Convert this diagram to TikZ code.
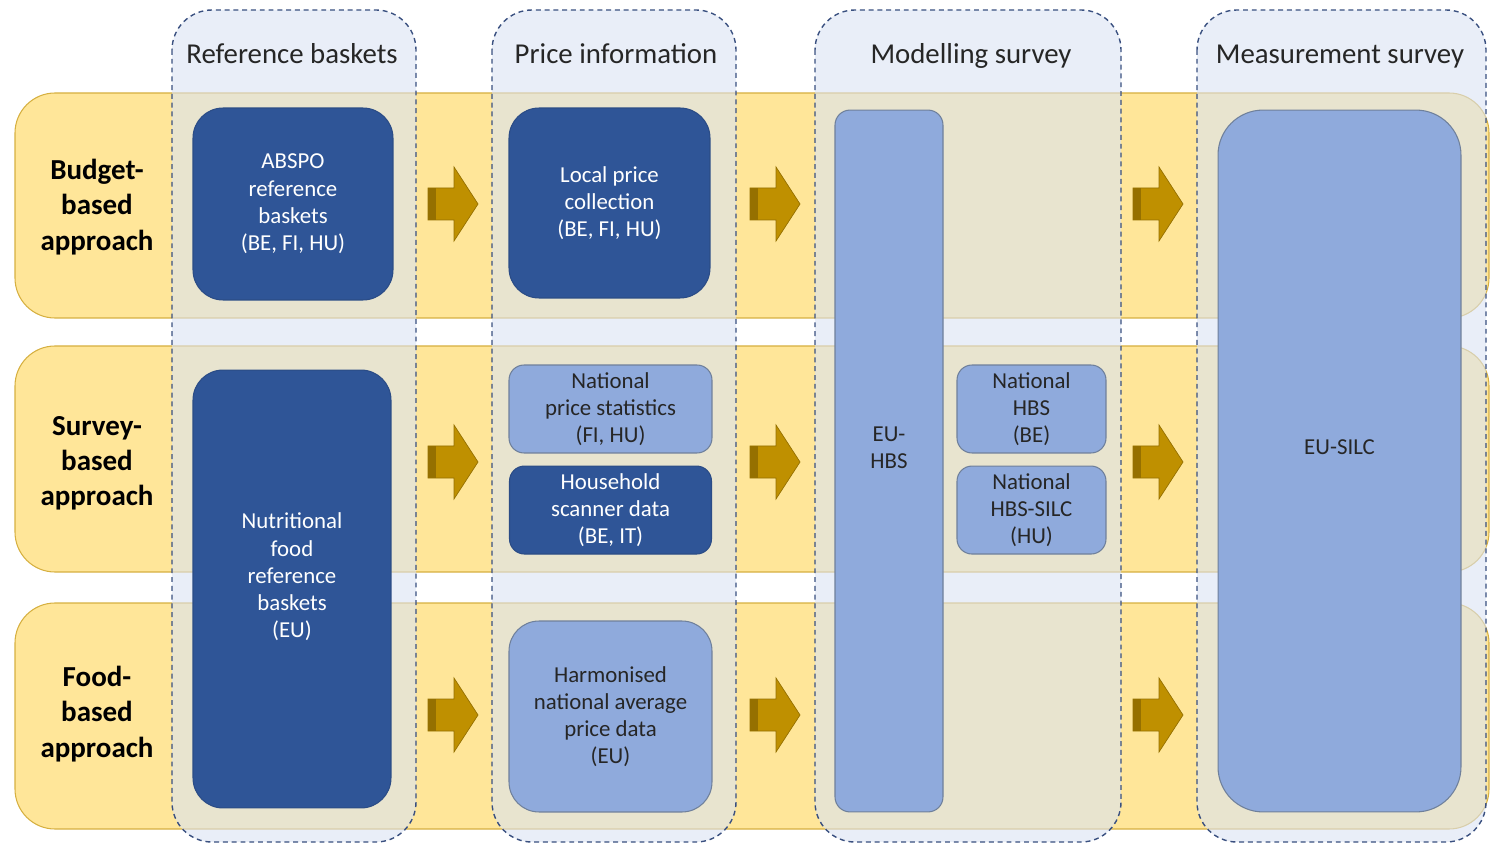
\documentclass[tikz,border=0pt]{standalone}
\usepackage{fontspec}
\setmainfont{Carlito}
\usetikzlibrary{positioning}
\definecolor{band}{HTML}{FFE699}
\definecolor{bandBorder}{HTML}{D6B041}
\definecolor{col}{HTML}{DAE3F3}
\definecolor{colBorder}{HTML}{3A5080}
\definecolor{dark}{HTML}{2F5597}
\definecolor{darkBorder}{HTML}{2B4C86}
\definecolor{light}{HTML}{8FAADC}
\definecolor{lightBorder}{HTML}{6F809B}
\definecolor{gold}{HTML}{BF9000}
\definecolor{goldDark}{HTML}{957000}

\begin{document}
\begin{tikzpicture}[x=0.02cm,y=-0.02cm,
    boxfont/.style={font=\fontsize{13}{15.5}\selectfont},
    darkbox/.style={boxfont,draw=darkBorder,line width=0.6pt,fill=dark,text=white,align=center,inner sep=0pt},
    lightbox/.style={boxfont,draw=lightBorder,line width=0.6pt,fill=light,text=black!85,align=center,inner sep=0pt},
    rowlabel/.style={font=\fontsize{16.5}{20}\selectfont\bfseries,align=center},
    colhead/.style={font=\fontsize{16.4}{19}\selectfont,text=black!85,anchor=base},
    bandbox/.style={draw=bandBorder,line width=0.6pt,fill=band,rounded corners=0.8cm},
    colbox/.style={draw=colBorder,line width=0.8pt,dash pattern=on 2.8pt off 2.2pt,fill=col,fill opacity=0.6,rounded corners=0.8cm}]
    \path[use as bounding box] (0,0) rectangle (1491,844);
    % approach bands
    \foreach \top/\bot in {93/318,346/572,603/829} {
      \draw[bandbox] (15,\top) rectangle (1489,\bot);
    }
    % survey columns
    \foreach \l/\r in {172/416,492/736,815/1121,1197/1486} {
      \draw[colbox] (\l,10) rectangle (\r,842);
    }
    \node[colhead] (hRef) at (292,64) {Reference baskets};
    \node[colhead] (hPrice) at (616,64) {Price information};
    \node[colhead] (hModel) at (971,64) {Modelling survey};
    \node[colhead] (hMeas) at (1340,64) {Measurement survey};

    \node[rowlabel] (rBudget) at (97,207) {Budget-\\based\\approach};
    \node[rowlabel] (rSurvey) at (97,463) {Survey-\\based\\approach};
    \node[rowlabel] (rFood) at (97,714) {Food-\\based\\approach};

    % reference baskets
    \node[darkbox,rounded corners=0.6cm,minimum width=4cm,minimum height=3.84cm] (absbpo) at (293,204)
      {ABSPO\\reference\\baskets\\(BE, FI, HU)};
    \node[darkbox,rounded corners=0.6cm,minimum width=3.96cm,minimum height=8.76cm] (nutri) at (292,589)
      {Nutritional\\food\\reference\\baskets\\(EU)\\ \mbox{}};
    % price information
    \node[darkbox,rounded corners=0.6cm,minimum width=4.02cm,minimum height=3.8cm] (localPrice) at (609.5,203)
      {Local price\\collection\\(BE, FI, HU)};
    \node[lightbox,rounded corners=0.3cm,minimum width=4.06cm,minimum height=1.76cm] (natPrice) at (610.5,409)
      {National\\price statistics\\(FI, HU)};
    \node[darkbox,rounded corners=0.3cm,minimum width=4.04cm,minimum height=1.76cm,below=0.24cm of natPrice] (scanner)
      {Household\\scanner data\\(BE, IT)};
    \node[lightbox,rounded corners=0.6cm,minimum width=4.06cm,minimum height=3.82cm] (harmonised) at (610.5,716.5)
      {Harmonised\\national average\\price data\\(EU)};
    % modelling survey
    \node[lightbox,rounded corners=0.3cm,minimum width=2.16cm,minimum height=14.04cm] (euHbs) at (889,461)
      {EU-\\HBS\\ \mbox{}};
    \node[lightbox,rounded corners=0.3cm,minimum width=2.98cm,minimum height=1.76cm] (natHbs) at (1031.5,409)
      {National\\HBS\\(BE)};
    \node[lightbox,rounded corners=0.3cm,minimum width=2.98cm,minimum height=1.76cm,below=0.24cm of natHbs] (natSilc)
      {National\\HBS-SILC\\(HU)};
    % measurement survey
    \node[lightbox,rounded corners=0.9cm,minimum width=4.86cm,minimum height=14.04cm] (euSilc) at (1339.5,461)
      {EU-SILC\\ \mbox{}};

    % block arrows between the columns
    \foreach \ax in {428,750,1133} \foreach \ay in {204,462,715} {
      \filldraw[fill=gold,draw=goldDark,line width=0.4pt] (\ax,\ay-16) -- ++(26,0) -- ++(0,-21) -- ++(24,37)
        -- ++(-24,37) -- ++(0,-21) -- ++(-26,0) -- cycle;
      \fill[goldDark] (\ax,\ay-16) rectangle ++(8,32);
    }
  \end{tikzpicture}
\end{document}
